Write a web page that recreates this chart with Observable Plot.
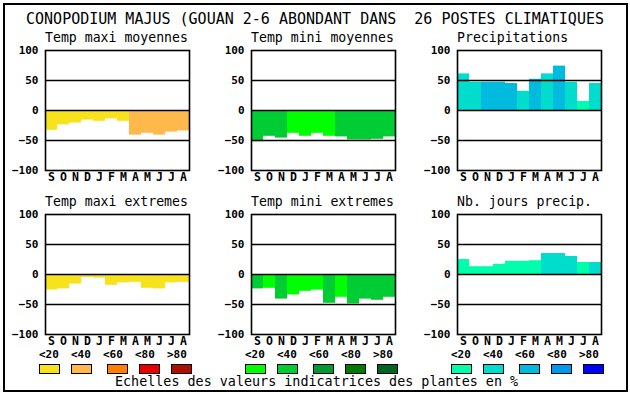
<!DOCTYPE html>
<html>
<head>
<meta charset="utf-8">
<script src="https://cdn.jsdelivr.net/npm/d3@7"></script>
<script src="https://cdn.jsdelivr.net/npm/@observablehq/plot@0.6"></script>
<style>
  html, body { margin: 0; padding: 0; background: #fff; }
  #root { position: relative; width: 630px; height: 394px; overflow: hidden; font-family: "DejaVu Sans Mono", monospace; color: #000; }
  .abs { position: absolute; white-space: pre; line-height: 1; }
  .border { position: absolute; left: 3px; top: 3px; width: 621px; height: 385px; border: 2px solid #000; }
  .sw { position: absolute; width: 19px; height: 8px; border: 1px solid #000; }
</style>
</head>
<body>
<div id="root"><div class="border"></div></div>
<script>
// ---------- data ----------
const chartTitle = "CONOPODIUM MAJUS (GOUAN 2-6 ABONDANT DANS  26 POSTES CLIMATIQUES";
const caption = "Echelles des valeurs indicatrices des plantes en %";
const months = ["S","O","N","D","J","F","M","A","M","J","J","A"];
const yTicks = [-100, -50, 0, 50, 100];
const gridLines = [-50, 0, 50];
const legendLabels = ["<20", "<40", "<60", "<80", ">80"];

const warmPalette = ["#f8e21c", "#ffb84c", "#ff7f00", "#e80000", "#ac1000"];
const greenPalette = ["#00ff00", "#00cc33", "#009933", "#007a00", "#006422"];
const bluePalette = ["#00ffaa", "#00ddcc", "#00bbdd", "#0099ee", "#0000ff"];

const panelTitles = ["Temp maxi moyennes", "Temp mini moyennes", "Precipitations",
                     "Temp maxi extremes", "Temp mini extremes", "Nb. jours precip."];

const tempMaxiMoy      = [-33, -24, -21, -16, -18, -14, -18, -41, -38, -41, -36, -34];
const tempMaxiMoyClass = [0, 0, 0, 0, 0, 0, 0, 1, 1, 1, 1, 1];
const tempMiniMoy      = [-52, -43, -46, -38, -43, -38, -43, -44, -49, -49, -48, -44];
const tempMiniMoyClass = [1, 1, 1, 0, 0, 0, 0, 1, 1, 1, 1, 1];
const precip           = [61, 47, 47, 47, 45, 32, 52, 61, 74, 47, 15, 45];
const precipClass      = [1, 1, 2, 2, 2, 1, 2, 1, 2, 1, 0, 1];
const tempMaxiExt      = [-26, -24, -16, -5, -6, -18, -14, -13, -23, -24, -14, -13];
const tempMaxiExtClass = [0, 0, 0, 0, 0, 0, 0, 0, 0, 0, 0, 0];
const tempMiniExt      = [-24, -23, -41, -34, -28, -26, -48, -38, -49, -41, -43, -38];
const tempMiniExtClass = [1, 0, 1, 0, 0, 0, 1, 0, 1, 1, 1, 1];
const nbJours          = [25, 13, 13, 17, 22, 22, 23, 35, 35, 30, 20, 20];
const nbJoursClass     = [0, 0, 0, 0, 0, 0, 0, 1, 1, 1, 0, 1];

// ---------- layout ----------
const root = document.getElementById("root");
const colX = [45, 251, 457];
const rowY = [50, 214];
const frameW = 144, frameH = 120;
const mL = 40, mR = 3, mT = 3, mB = 14;

const panels = [
  {values: tempMaxiMoy, classes: tempMaxiMoyClass, palette: warmPalette},
  {values: tempMiniMoy, classes: tempMiniMoyClass, palette: greenPalette},
  {values: precip, classes: precipClass, palette: bluePalette},
  {values: tempMaxiExt, classes: tempMaxiExtClass, palette: warmPalette},
  {values: tempMiniExt, classes: tempMiniExtClass, palette: greenPalette},
  {values: nbJours, classes: nbJoursClass, palette: bluePalette}
];

function addText(txt, left, top, css) {
  const d = document.createElement("div");
  d.className = "abs";
  d.textContent = txt;
  d.style.left = left + "px";
  d.style.top = top + "px";
  Object.assign(d.style, css || {});
  root.appendChild(d);
  return d;
}

// main title
addText(chartTitle, 0, 12, {width: "630px", textAlign: "center", fontSize: "15px"});

panels.forEach((p, k) => {
  const col = k % 3, row = Math.floor(k / 3);
  const data = p.values.map((v, i) => ({i, v, c: p.palette[p.classes[i]]}));
  const chart = Plot.plot({
    width: frameW + mL + mR,
    height: frameH + mT + mB,
    marginLeft: mL, marginRight: mR, marginTop: mT, marginBottom: mB,
    style: {fontFamily: "DejaVu Sans Mono", fontSize: "11px", fontWeight: "bold", background: "transparent", overflow: "visible", color: "#000"},
    x: {type: "band", domain: d3.range(12), padding: 0, label: null},
    y: {domain: [-100, 100], label: null},
    color: {type: "identity"},
    marks: [
      Plot.barY(data, {x: "i", y: "v", fill: "c", inset: 0}),
      Plot.ruleY(gridLines, {stroke: "#000", strokeWidth: 1.6}),
      Plot.frame({stroke: "#000", strokeWidth: 1.6}),
      Plot.axisX({tickFormat: i => months[i], tickSize: 0, tickPadding: 2, fontSize: 11.5, fontWeight: "bold", label: null}),
      Plot.axisY({ticks: yTicks, tickSize: 0, tickPadding: 7, fontSize: 11, fontWeight: "bold", label: null})
    ]
  });
  chart.style.position = "absolute";
  chart.style.left = (colX[col] - mL) + "px";
  chart.style.top = (rowY[row] - mT) + "px";
  root.appendChild(chart);

  // panel title
  addText(panelTitles[k], colX[col], rowY[row] - 19, {fontSize: "13.2px"});

  // legend (once per column, below bottom row)
  if (row === 1) {
    const swOff = [0, 32, 68, 100, 132];
    const lbOff = [0, 32, 64, 96, 128];
    legendLabels.forEach((lab, j) => {
      addText(lab, colX[col] - 6 + lbOff[j], 349, {fontSize: "11px", fontWeight: "bold"});
      const s = document.createElement("div");
      s.className = "sw";
      s.style.left = (colX[col] - 6 + swOff[j]) + "px";
      s.style.top = "364px";
      s.style.background = p.palette[j];
      root.appendChild(s);
    });
  }
});

// caption
addText(caption, 115, 375, {fontSize: "13.4px"});
</script>
</body>
</html>
